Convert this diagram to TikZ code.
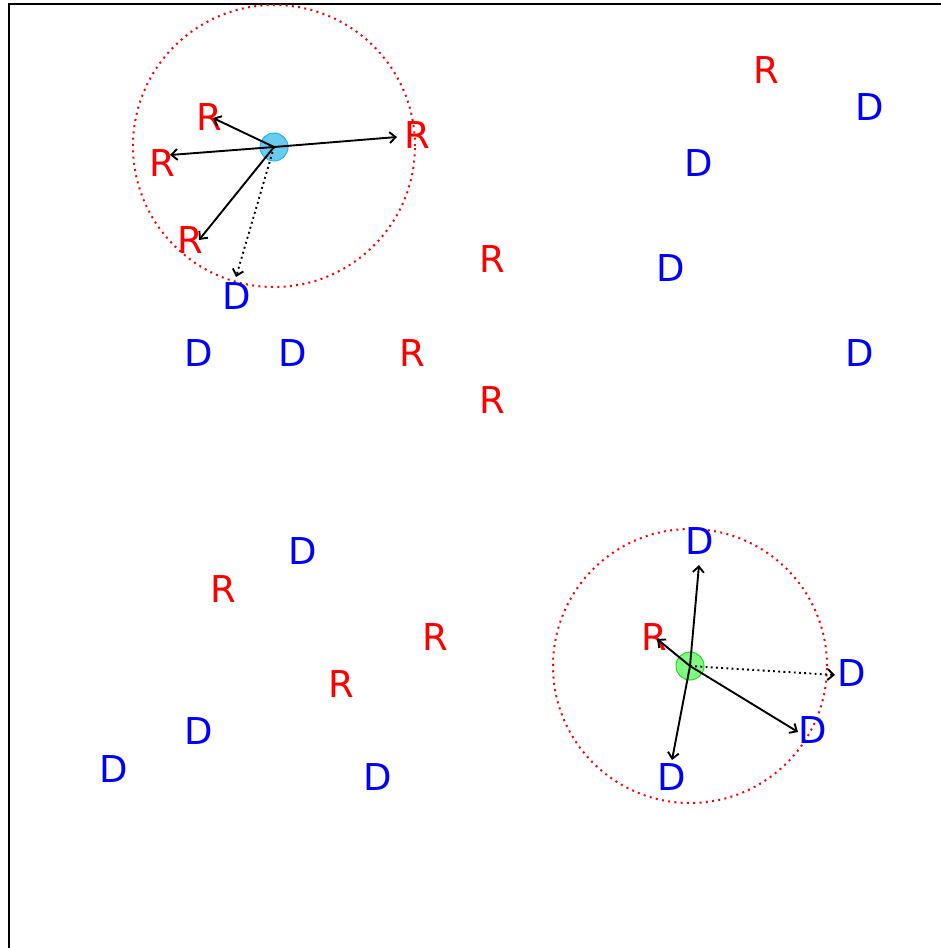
\documentclass[tikz,border=0pt]{standalone}
\usepackage{fontspec}
\setmainfont{DejaVu Sans}
\usetikzlibrary{arrows.meta}
\definecolor{hubcyan}{RGB}{104,204,240}
\definecolor{hubcyanline}{RGB}{40,180,230}
\definecolor{hubgreen}{RGB}{128,250,128}
\definecolor{hubgreenline}{RGB}{40,215,40}
\tikzset{
  rlbl/.style={text=red, inner sep=0pt, font=\fontsize{37}{44}\selectfont},
  dlbl/.style={rlbl, text=blue},
  hub/.style={circle, minimum size=28pt, inner sep=0pt, line width=1pt},
  hubA/.style={hub, fill=hubcyan, draw=hubcyanline},
  hubB/.style={hub, fill=hubgreen, draw=hubgreenline},
  rangecirc/.style={circle, inner sep=0pt, draw=red, line width=2pt,
                    dash pattern=on 2pt off 4.3pt},
  link/.style={-{Straight Barb[length=6pt,width=11pt]}, line width=1.9pt},
  linkdot/.style={link, dash pattern=on 1.9pt off 3.3pt},
}

\begin{document}
\begin{tikzpicture}[x=1pt, y=-1pt]
  \clip (0,0) rectangle (941,948);
  % Rahmen
  \draw[line width=2pt] (9,970) -- (9,4) -- (970,4);

  % Reichweiten
  \node[rangecirc, minimum size=282pt] (rngA) at (274,146) {};
  \node[rangecirc, minimum size=274pt] (rngB) at (690,666) {};

  % Knoten oben links
  \node[rlbl] (r1) at (209,117) {R};
  \node[rlbl] (r2) at (162,163) {R};
  \node[rlbl] (r3) at (190,240) {R};
  \node[rlbl] (r4) at (417,135) {R};
  \node[dlbl] (d1) at (237,296) {D};
  \node[dlbl] (d2) at (199,353) {D};
  \node[dlbl] (d3) at (293,353) {D};
  \node[rlbl] (r5) at (412,353) {R};
  \node[rlbl] (r6) at (492,259) {R};
  \node[rlbl] (r7) at (492,400) {R};

  % Knoten oben rechts
  \node[rlbl] (r8) at (766,70) {R};
  \node[dlbl] (d4) at (870,107) {D};
  \node[dlbl] (d5) at (699,163) {D};
  \node[dlbl] (d6) at (671,268) {D};
  \node[dlbl] (d7) at (860,353) {D};

  % Knoten unten links
  \node[dlbl] (d8) at (303,551) {D};
  \node[rlbl] (r9) at (223,589) {R};
  \node[rlbl] (r10) at (435,637) {R};
  \node[rlbl] (r11) at (341,684) {R};
  \node[dlbl] (d9) at (199,731) {D};
  \node[dlbl] (d10) at (114,769) {D};
  \node[dlbl] (d11) at (378,777) {D};

  % Knoten unten rechts
  \node[dlbl] (d12) at (700,541) {D};
  \node[rlbl] (r12) at (654,637) {R};
  \node[dlbl] (d13) at (852,673) {D};
  \node[dlbl] (d14) at (813,730) {D};
  \node[dlbl] (d15) at (672,777) {D};

  % Sender
  \node[hubA] (hA) at (274,147) {};
  \node[hubB] (hB) at (690,666) {};

  % Verbindungen
  \draw[link] (hA.center) -- ([shift={(4,1)}]r1.center);
  \draw[link] (hA.center) -- ([shift={(8,-8)}]r2.center);
  \draw[link] (hA.center) -- ([shift={(9,0)}]r3.center);
  \draw[link] (hA.center) -- ([shift={(-20,2)}]r4.center);
  \draw[linkdot] (hA.center) -- ([shift={(-1,-19)}]d1.center);

  \draw[link] (hB.center) -- ([shift={(-1,24)}]d12.center);
  \draw[link] (hB.center) -- ([shift={(3,2)}]r12.center);
  \draw[link] (hB.center) -- ([shift={(-15,2)}]d14.center);
  \draw[link] (hB.center) -- ([shift={(0,-17)}]d15.center);
  \draw[linkdot] (hB.center) -- ([shift={(-17,2)}]d13.center);
\end{tikzpicture}
\end{document}
